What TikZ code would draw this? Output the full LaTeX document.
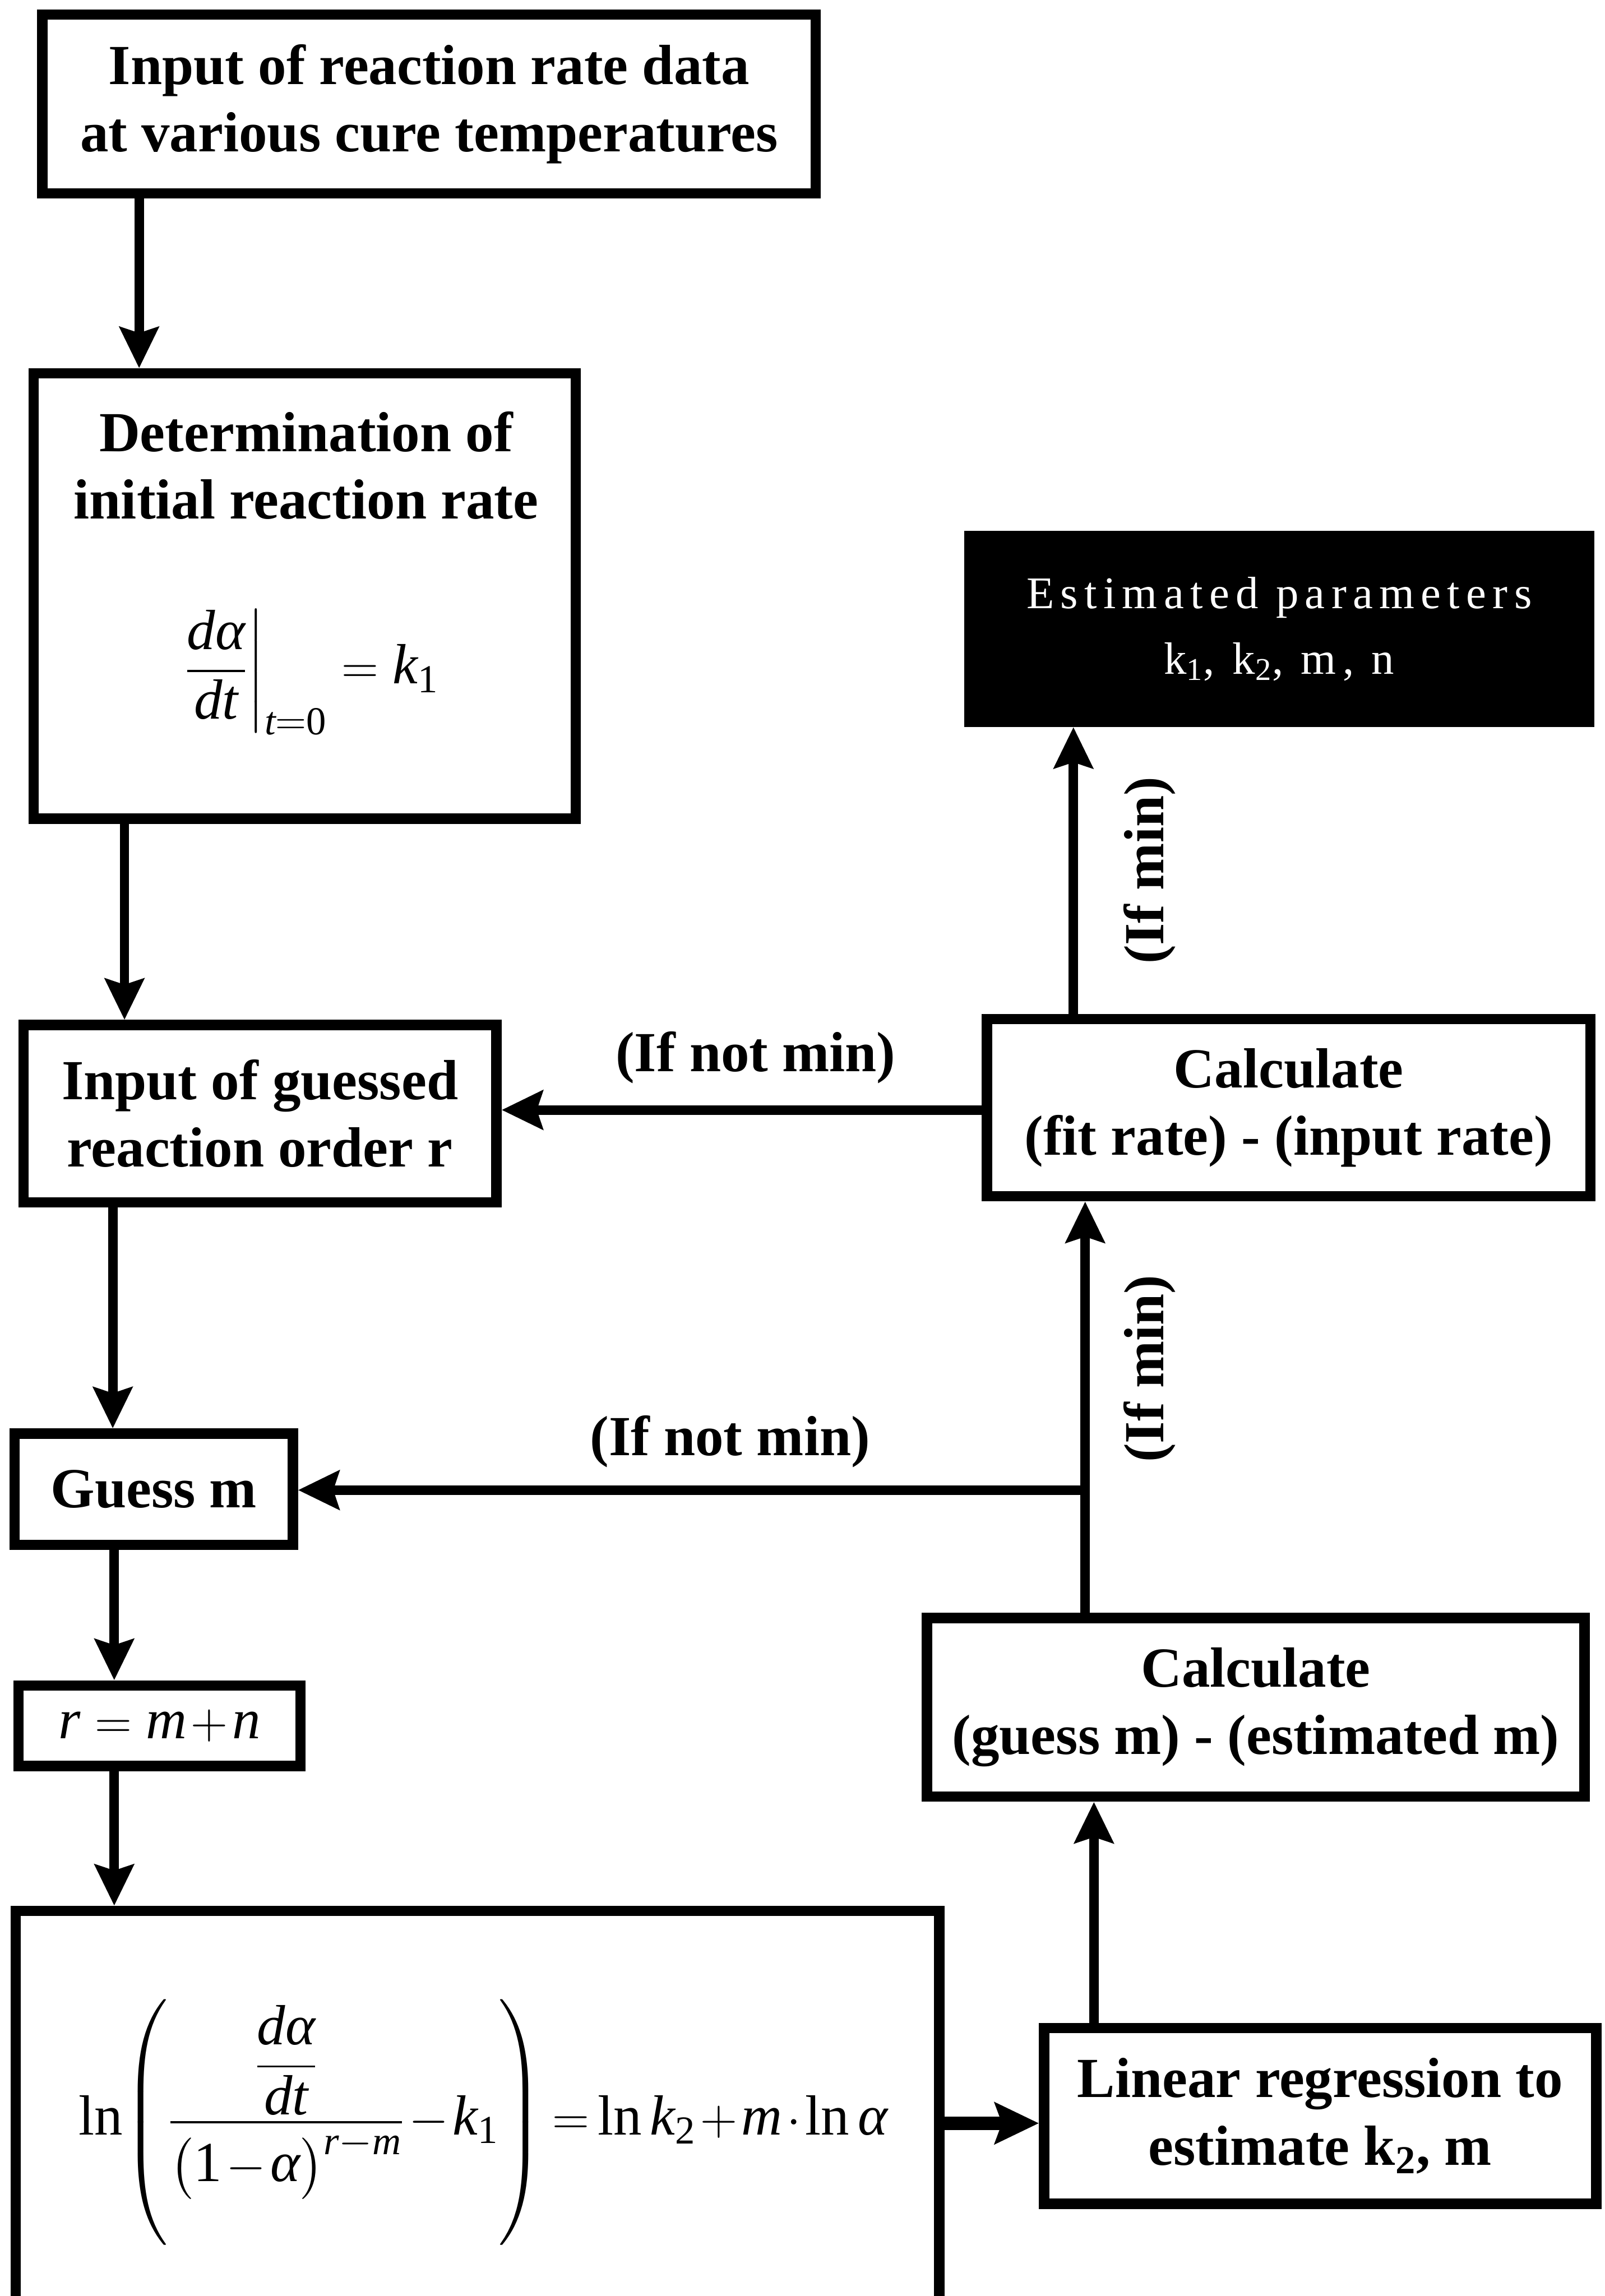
\documentclass[tikz,border=0pt]{standalone}
\usepackage{amsmath}
\usepackage{fontspec}
\setmainfont{Liberation Serif}
\newfontfamily\spacedserif{Liberation Serif}[LetterSpace=14]
\usetikzlibrary{arrows.meta}
% italic and upright letters for formulas, taken from the text font
\newcommand\itv[1]{\text{\normalfont\itshape #1}}
\newcommand\upr[1]{\text{\normalfont #1}}
\newcommand\bodyfont{\bfseries\fontsize{27.5pt}{32.7pt}\selectfont}
\newcommand\mathsize{\fontsize{27.5pt}{32.7pt}\selectfont}
\newcommand\resultfont{\spacedserif\fontsize{22pt}{31.7pt}\selectfont}
\begin{document}
\begin{tikzpicture}[x=0.025cm, y=-0.025cm,
  box/.style={draw, line width=5pt, inner sep=0pt, align=center, font=\bodyfont},
  txt/.style={inner sep=0pt, align=center, font=\bodyfont},
  lbl/.style={inner sep=0pt, font=\bodyfont},
  formula/.style={inner sep=0pt, anchor=base, font=\mathsize},
  arr/.style={line width=4.6pt, -{Stealth[length=0.7cm, width=0.66cm, inset=0.1cm]}},
  arrthick/.style={line width=6.4pt, -{Stealth[length=0.75cm, width=0.7cm, inset=0.12cm]}}]
\useasboundingbox (0,0) rectangle (1096,1568);

% boxes of the left column
\node[box, minimum width=13.2cm, minimum height=3.05cm] (b1) at (293,71)
  {Input of reaction rate data\\at various cure temperatures};
\node[box, minimum width=9.25cm, minimum height=7.6cm] (b2) at (208,407) {};
\node[txt] (t2) at (209,318) {Determination of\\initial reaction rate};
\node[formula] (f2) at (212,467)
  {$\displaystyle \left.\frac{\itv{d}\itv{α}}{\itv{dt}}\right|_{\itv{t}=\upr{0}} = \itv{k}_{\upr{1}}$};
\node[box, minimum width=8.075cm, minimum height=3.025cm] (b3) at (177.5,760.5)
  {Input of guessed\\reaction order r};
\node[box, minimum width=4.75cm, minimum height=1.9cm] (b4) at (105,1017) {Guess m};
\node[box, minimum width=4.8125cm, minimum height=1.375cm, font=\mathsize] (b5) at (109,1178.5)
  {$\medmuskip=1.5mu \itv{r}=\itv{m}+\itv{n}$};
\node[box, minimum width=15.7625cm, minimum height=7.375cm] (b6) at (326,1452.5) {};
\node[formula] (f6) at (330,1458)
  {$\displaystyle \thickmuskip=3mu \medmuskip=1.5mu
    \upr{ln}\!\left(\vrule height 2.2cm depth 1.6cm width 0pt
    \frac{\dfrac{\itv{d}\itv{α}}{\itv{dt}}}{\bigl(\upr{1}-\itv{α}\bigr)^{\itv{r}-\itv{m}}}-\itv{k}_{\upr{1}}\right)
    = \upr{ln}\,\itv{k}_{\upr{2}}+\itv{m}\cdot\upr{ln}\,\itv{α}$};

% boxes of the right column
\node[box, minimum width=9.425cm, minimum height=3.0cm] (b7) at (901.5,1445)
  {Linear regression to\\estimate k\textsubscript{2}, m};
\node[box, minimum width=11.225cm, minimum height=3.05cm] (b8) at (857.5,1166)
  {Calculate\\(guess m) - (estimated m)};
\node[box, minimum width=10.3cm, minimum height=3.025cm] (b9) at (880,756.5)
  {Calculate\\(fit rate) - (input rate)};
\node[box, fill=black, text=white, font=\resultfont, minimum width=10.575cm, minimum height=3.175cm]
  (b10) at (873.5,429.5) {Estimated parameters\\k\textsubscript{1}, k\textsubscript{2}, m, n};

% columns and rows used by the connectors
\coordinate (c95) at (95,0);
\coordinate (c85) at (85,0);
\coordinate (c77) at (77,0);
\coordinate (c78) at (78,0);
\coordinate (c747) at (747,0);
\coordinate (c741) at (741,0);
\coordinate (c733) at (733,0);
\coordinate (r758) at (0,758);
\coordinate (r1018) at (0,1017.6);
\coordinate (r1450) at (0,1450);
\coordinate (j) at (c741 |- r1018);

% main flow
\draw[arr] (b1.south -| c95) -- (b2.north -| c95);
\draw[arr] (b2.south -| c85) -- (b3.north -| c85);
\draw[arr] (b3.south -| c77) -- (b4.north -| c77);
\draw[arr] (b4.south -| c78) -- (b5.north -| c78);
\draw[arr] (b5.south -| c78) -- (b6.north -| c78);
\draw[arrthick] (b6.east |- r1450) -- (b7.west |- r1450);
\draw[arr] (b7.north -| c747) -- (b8.south -| c747);
\draw[arr] (b8.north -| c741) -- (b9.south -| c741);
\draw[arr] (j) -- (b4.east |- j);
\draw[arr] (b9.west |- r758) -- (b3.east |- r758);
\draw[arr] (b9.north -| c733) -- (b10.south -| c733);

% branch labels
\node[lbl, anchor=base] (l1) at (516,731.6) {(If not min)};
\node[lbl, anchor=base] (l2) at (498.5,994) {(If not min)};
\node[lbl, rotate=90] (l3) at (785,594.5) {(If min)};
\node[lbl, rotate=90] (l4) at (785,934.7) {(If min)};
\end{tikzpicture}
\end{document}
